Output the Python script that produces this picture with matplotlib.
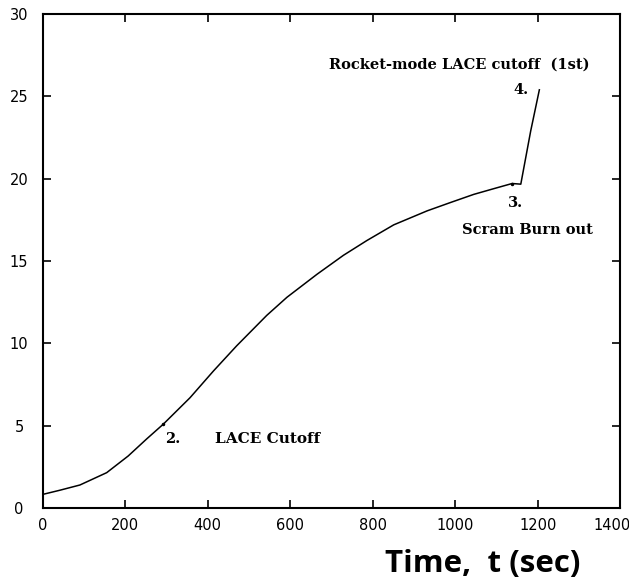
import numpy as np
import matplotlib
matplotlib.use('Agg')
import matplotlib.pyplot as plt
from matplotlib.transforms import ScaledTranslation

# Trajectory: time (s) vs. quantity
time_s = [0, 41, 90, 155, 207, 252, 292, 357, 414, 470, 543, 592, 665, 729,
          786, 851, 932, 989, 1045, 1094, 1138, 1159, 1183, 1204]
value = [0.83, 1.08, 1.4, 2.15, 3.16, 4.2, 5.09, 6.7, 8.33, 9.85, 11.7,
         12.8, 14.2, 15.35, 16.25, 17.2, 18.05, 18.56, 19.05, 19.4, 19.71,
         19.67, 22.9, 25.4]

# Event points marked on the curve
event_t = [292, 1138]
event_v = [5.09, 19.71]

x_ticks = [0, 200, 400, 600, 800, 1000, 1200, 1400]
y_ticks = [0, 5, 10, 15, 20, 25, 30]

SERIF = ['DejaVu Serif']

fig = plt.figure(figsize=(6.29, 5.86), dpi=100)
ax = fig.add_axes([0.068, 0.133, 0.918, 0.843])

ax.plot(time_s, value, color='black', lw=1.1)
ax.plot(event_t, event_v, 'k.', ms=3)

ax.set_xlim(0, 1400)
ax.set_ylim(0, 30)
ax.set_xticks(x_ticks)
ax.set_yticks(y_ticks)
ax.tick_params(direction='in', length=6, width=1.2, top=True, right=True,
               labelsize=10.5)
ax.tick_params(axis='x', pad=7)
ax.tick_params(axis='y', pad=17)
for lab in ax.get_yticklabels():
    lab.set_horizontalalignment('center')
# last x label sits at the very edge in the original; nudge it in a bit
last = ax.xaxis.get_major_ticks()[-1].label1
last.set_transform(last.get_transform()
                   + ScaledTranslation(-6 / 72, 0, fig.dpi_scale_trans))
for sp in ax.spines.values():
    sp.set_linewidth(1.5)

# Annotations
kw = dict(family=SERIF, fontweight='bold', fontsize=10.5, va='center')
ax.text(296, 4.2, '2.', ha='left', **kw)
ax.text(417, 4.2, 'LACE Cutoff', ha='left', fontsize=11,
        **{k: v for k, v in kw.items() if k != 'fontsize'})
ax.text(1146, 18.5, '3.', ha='center', **kw)
ax.text(1174, 16.9, 'Scram Burn out', ha='center', **kw)
ax.text(1178, 25.4, '4.', ha='right', **kw)
ax.text(1010, 26.9, 'Rocket-mode LACE cutoff  (1st)', ha='center', **kw)

fig.text(0.922, 0.038, 'Time,  t (sec)', ha='right', va='center',
         family=['Open Sans', 'DejaVu Sans'], fontweight='bold', fontsize=22.5)

plt.savefig('out.png', dpi=100)
